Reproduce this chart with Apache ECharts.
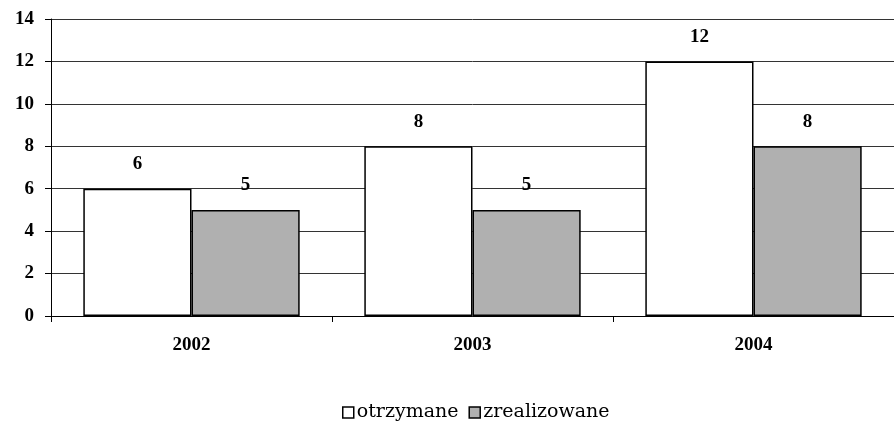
<!DOCTYPE html>
<html>
<head>
<meta charset="UTF-8">
<script src="https://cdn.jsdelivr.net/npm/echarts@6/dist/echarts.min.js"></script>
<style>
  html, body { margin: 0; padding: 0; background: #fff; }
  #chart { width: 894px; height: 423px; }
</style>
</head>
<body>
<div id="chart"></div>
<script>
// dane wykresu
const years = ['2002', '2003', '2004'];
const otrzymane = [6, 8, 12];
const zrealizowane = [5, 5, 8];
const seriesNames = ['otrzymane', 'zrealizowane'];

const font = 'Liberation Serif';
const numStyle = { fontFamily: font, fontWeight: 'bold', fontSize: 19, color: '#000' };
const chart = echarts.init(document.getElementById('chart'));

chart.setOption({
  animation: false,
  backgroundColor: '#fff',
  grid: { left: 51, right: 0, top: 19, bottom: 107 },
  legend: {
    data: seriesNames,
    top: 398,
    left: 337,
    itemWidth: 11,
    itemHeight: 11,
    itemGap: 10,
    icon: 'rect',
    itemStyle: { borderColor: '#000', borderWidth: 1.5 },
    textStyle: { fontFamily: 'DejaVu Serif', fontSize: 19, color: '#000', padding: [0, 0, 0, -2] }
  },
  xAxis: {
    type: 'category',
    data: years,
    axisLine: { lineStyle: { color: '#000', width: 1 } },
    axisTick: { show: true, length: 6, lineStyle: { color: '#000' } },
    axisLabel: Object.assign({ margin: 20 }, numStyle)
  },
  yAxis: {
    type: 'value',
    min: 0,
    max: 14,
    interval: 2,
    axisLine: { show: true, lineStyle: { color: '#000', width: 1 } },
    axisTick: { show: true, length: 6, lineStyle: { color: '#000' } },
    axisLabel: Object.assign({ margin: 17 }, numStyle),
    splitLine: { show: true, lineStyle: { color: '#333', width: 1 } }
  },
  series: [
    {
      name: seriesNames[0],
      type: 'bar',
      data: otrzymane,
      barGap: '0%',
      barCategoryGap: '23%',
      itemStyle: { color: '#ffffff', borderColor: '#000', borderWidth: 1.5 },
      label: Object.assign({ show: true, position: 'top', distance: 15 }, numStyle)
    },
    {
      name: seriesNames[1],
      type: 'bar',
      data: zrealizowane,
      itemStyle: { color: '#b0b0b0', borderColor: '#000', borderWidth: 1.5 },
      label: Object.assign({ show: true, position: 'top', distance: 15 }, numStyle)
    }
  ]
});
</script>
</body>
</html>
